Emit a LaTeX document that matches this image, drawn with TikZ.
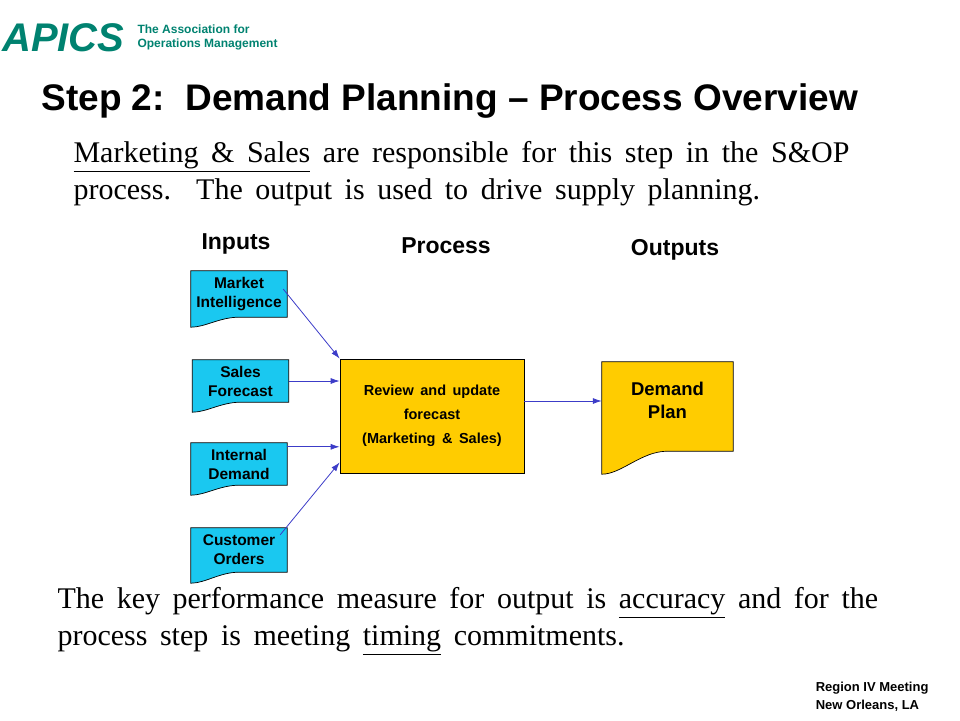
\documentclass[tikz,border=0pt]{standalone}
\usepackage{fontspec}
\setmainfont{Liberation Serif}
\newfontfamily\arial{Liberation Sans}
\usetikzlibrary{backgrounds,calc,arrows.meta}
\definecolor{cyanbox}{RGB}{26,200,240}
\definecolor{goldbox}{RGB}{255,204,0}
\definecolor{teal}{RGB}{0,130,112}
\definecolor{arr}{RGB}{60,60,200}
\newcommand{\bodyfont}{\fontsize{30}{37}\selectfont\spaceskip=0.42em plus 0.1em\relax}
\newcommand{\prfont}{\arial\bfseries\fontsize{14.5}{24}\selectfont\spaceskip=0.45em\relax}
\tikzset{
 inbox/.style={draw=none,minimum width=96pt,minimum height=44pt,inner sep=0pt,align=center,font=\arial\bfseries\fontsize{15.5}{19}\selectfont},
 link/.style={draw=arr,line width=0.8pt,-{Latex[length=9pt,width=6pt]}},
 hdr/.style={font=\arial\bfseries\fontsize{23}{26}\selectfont},
 body/.style={anchor=west,align=left,font=\bodyfont},
}
\newcommand{\docshape}[3]{% node, fill, wave depth
 \draw[fill=#2,line width=0.7pt] (#1.north west) -- (#1.north east) -- (#1.south east)
 -- ($(#1.south west)!0.5!(#1.south east)$) .. controls ($(#1.south west)!0.3!(#1.south east)$) and ($(#1.south west)!0.15!(#1.south east)+(0,#3)$) .. ($(#1.south west)+(0,#3)$) -- cycle;}
\begin{document}
\begin{tikzpicture}[x=1pt,y=-1pt]
\useasboundingbox (0,0) rectangle (960,720);
% logo
\node[anchor=west,text=teal,font=\arial\bfseries\itshape\fontsize{40}{40}\selectfont,inner sep=0pt] (logo) at (2,38) {APICS};
\node[anchor=west,text=teal,align=left,font=\arial\bfseries\fontsize{12}{14}\selectfont] (tag) at (134,37) {The Association for\\Operations Management};
% title
\node[anchor=west,font=\arial\bfseries\fontsize{37}{40}\selectfont] (title) at (38,101) {Step 2:\ \ Demand Planning – Process Overview};
\node[body] (intro) at (70,174) {\underline{Marketing \& Sales} are responsible for this step in the S\&OP\\process.\ \ The output is used to drive supply planning.};
\node[hdr] (hin) at (236,244) {Inputs};
\node[hdr] (hpr) at (446,246) {Process};
\node[hdr] (hout) at (675,250) {Outputs};
% nodes
\node[inbox,minimum height=46pt] (mi) at (239,294) {Market\\Intelligence};
\node[inbox,minimum height=42pt] (sf) at (240.5,381) {Sales\\Forecast};
\node[inbox,minimum height=42pt] (id) at (239,464) {Internal\\Demand};
\node[inbox,minimum height=44pt] (co) at (239,550) {Customer\\Orders};
\node[draw=black,fill=goldbox,line width=0.7pt,minimum width=184pt,minimum height=114pt,align=center,font=\prfont] (pr) at (432,416) {Review and update\\forecast\\(Marketing \& Sales)};
\node[draw=none,minimum width=131pt,minimum height=89pt,inner sep=0pt,align=center,font=\arial\bfseries\fontsize{18.5}{23}\selectfont] (dp) at (667.5,406.5) {\\[-22pt]Demand\\Plan};
\begin{scope}[on background layer]
\docshape{mi}{cyanbox}{10}
\docshape{sf}{cyanbox}{10}
\docshape{id}{cyanbox}{10}
\docshape{co}{cyanbox}{11}
\docshape{dp}{goldbox}{23}
\end{scope}
\coordinate (m1) at ($(mi.east)+(-4,-5)$);
\draw[link] (m1) -- (pr.north west);
\draw[link] (sf.east) -- (sf.east -| pr.west);
\coordinate (i1) at ($(id.north east)+(0,4)$);
\draw[link] (i1) -- (i1 -| pr.west);
\coordinate (c1) at ($(co.north east)+(-7,7)$);
\draw[link] (c1) -- ($(pr.south west)+(0,-11)$);
\coordinate (p1) at ($(pr.east)+(0,-15)$);
\draw[link] (p1) -- (p1 -| dp.west);
% bottom
\node[body] (perf) at (54,621) {The key performance measure for output is \underline{accuracy} and for the\\process step is meeting \underline{timing} commitments.};
\node[anchor=east,align=left,font=\arial\bfseries\fontsize{13}{18}\selectfont] (reg) at (932,697) {Region IV Meeting\\New Orleans, LA};
\end{tikzpicture}
\end{document}
